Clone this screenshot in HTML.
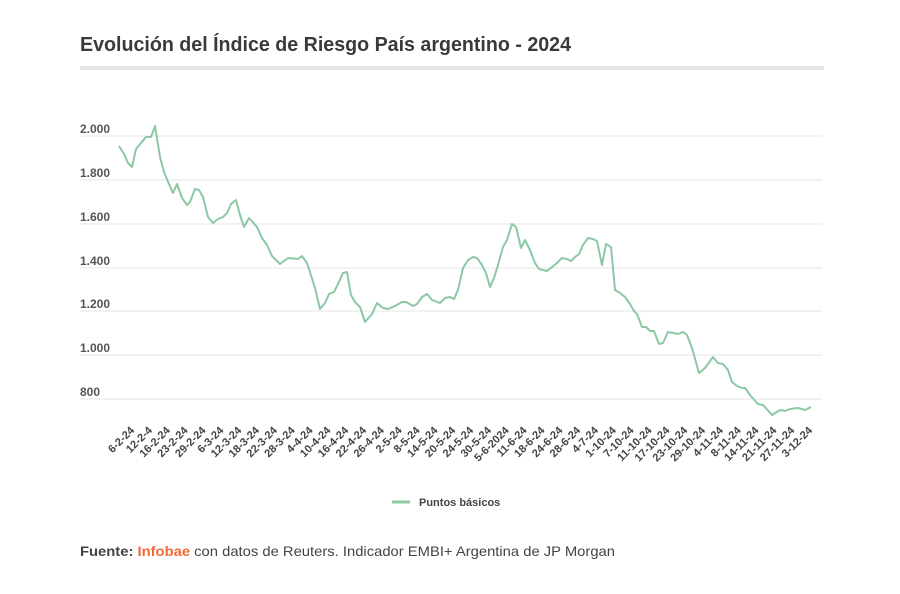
<!DOCTYPE html>
<html><head><meta charset="utf-8"><style>
html,body{margin:0;padding:0;background:#fff;}
svg{display:block;font-family:"Liberation Sans",sans-serif;}
</style></head><body>
<svg width="900" height="594" viewBox="0 0 900 594" xmlns="http://www.w3.org/2000/svg">
<rect width="900" height="594" fill="#fff"/>
<text x="80" y="51" font-size="20" font-weight="bold" fill="#3a3a3a" textLength="491" lengthAdjust="spacingAndGlyphs">Evolución del Índice de Riesgo País argentino - 2024</text>
<rect x="80" y="66" width="744" height="4" fill="#e6e6e6"/>
<g stroke="#e6e6e6" stroke-width="1">
<line x1="80" y1="136" x2="822" y2="136"/>
<line x1="80" y1="180" x2="822" y2="180"/>
<line x1="80" y1="224" x2="822" y2="224"/>
<line x1="80" y1="268" x2="822" y2="268"/>
<line x1="80" y1="311" x2="822" y2="311"/>
<line x1="80" y1="355" x2="822" y2="355"/>
<line x1="80" y1="399" x2="822" y2="399"/>
</g>
<g font-size="12" fill="#555" font-weight="bold">
<text x="80" y="133">2.000</text>
<text x="80" y="177">1.800</text>
<text x="80" y="221">1.600</text>
<text x="80" y="265">1.400</text>
<text x="80" y="308">1.200</text>
<text x="80" y="352">1.000</text>
<text x="80" y="396">800</text>
</g>
<polyline fill="none" stroke="#8cc8a4" stroke-width="2" stroke-linejoin="round" points="119,146 124,154 128,163 132,167 136,149 141,143 146,137 151,137 155,126 160,157 164,172 169,184 173,193 177,184 182,198 187,205 190,202 195,189 199,190 203,197 208,217 213,223 218,219 223,217 227,213 231,204 236,200 240,215 244,227 249,218 257,227 262,238 267,245 272,256 280,264 288,258 298,259 302,256 307,263 315,288 320,309 325,303 329,294 334,292 338,284 343,273 347,272 351,295 355,302 360,307 365,322 372,314 377,303 383,308 388,309 395,306 402,302 406,302 413,306 417,304 422,297 427,294 432,300 440,303 445,298 450,297 454,299 458,290 463,268 468,260 473,257 477,258 482,265 486,273 490,287 494,278 498,265 503,247 507,240 512,224 516,227 521,248 525,240 530,250 535,263 539,269 547,271 552,267 557,263 562,258 567,259 571,261 575,257 579,254 583,245 588,238 593,239 597,241 602,265 606,244 611,247 615,290 620,293 625,297 630,304 634,311 637,314 642,327 646,327 650,331 654,331 659,344 663,343 668,332 673,333 678,334 683,332 687,335 692,348 699,373 705,368 713,357 718,363 723,364 728,370 732,382 737,386 742,388 745,388 750,395 758,404 763,405 772,415 780,410 785,411 790,409 798,408 805,410 811,407"/>
<g font-size="11" fill="#444" font-weight="bold" text-anchor="end" id="xl"></g>
<line x1="392" y1="502" x2="410" y2="502" stroke="#8cc8a4" stroke-width="3"/>
<text x="419" y="506" font-size="11" fill="#444" font-weight="bold">Puntos básicos</text>
<text x="80" y="556" font-size="14" fill="#444" textLength="535" lengthAdjust="spacingAndGlyphs"><tspan font-weight="bold">Fuente: </tspan><tspan font-weight="bold" fill="#f26a35">Infobae</tspan> con datos de Reuters. Indicador EMBI+ Argentina de JP Morgan</text>
</svg>
<script>
var L="6-2-24,12-2-4,16-2-24,23-2-24,29-2-24,6-3-24,12-3-24,18-3-24,22-3-24,28-3-24,4-4-24,10-4-24,16-4-24,22-4-24,26-4-24,2-5-24,8-5-24,14-5-24,20-5-24,24-5-24,30-5-24,5-6-2024,11-6-24,18-6-24,24-6-24,28-6-24,4-7-24,1-10-24,7-10-24,11-10-24,17-10-24,23-10-24,29-10-24,4-11-24,8-11-24,14-11-24,21-11-24,27-11-24,3-12-24".split(",");
var g=document.getElementById("xl"),ns="http://www.w3.org/2000/svg";
for(var i=0;i<L.length;i++){var x=135+i*17.84,y=431;var t=document.createElementNS(ns,"text");t.setAttribute("x",x);t.setAttribute("y",y);t.setAttribute("transform","rotate(-45 "+x+" "+y+")");t.textContent=L[i];g.appendChild(t);}
</script>
</body></html>
